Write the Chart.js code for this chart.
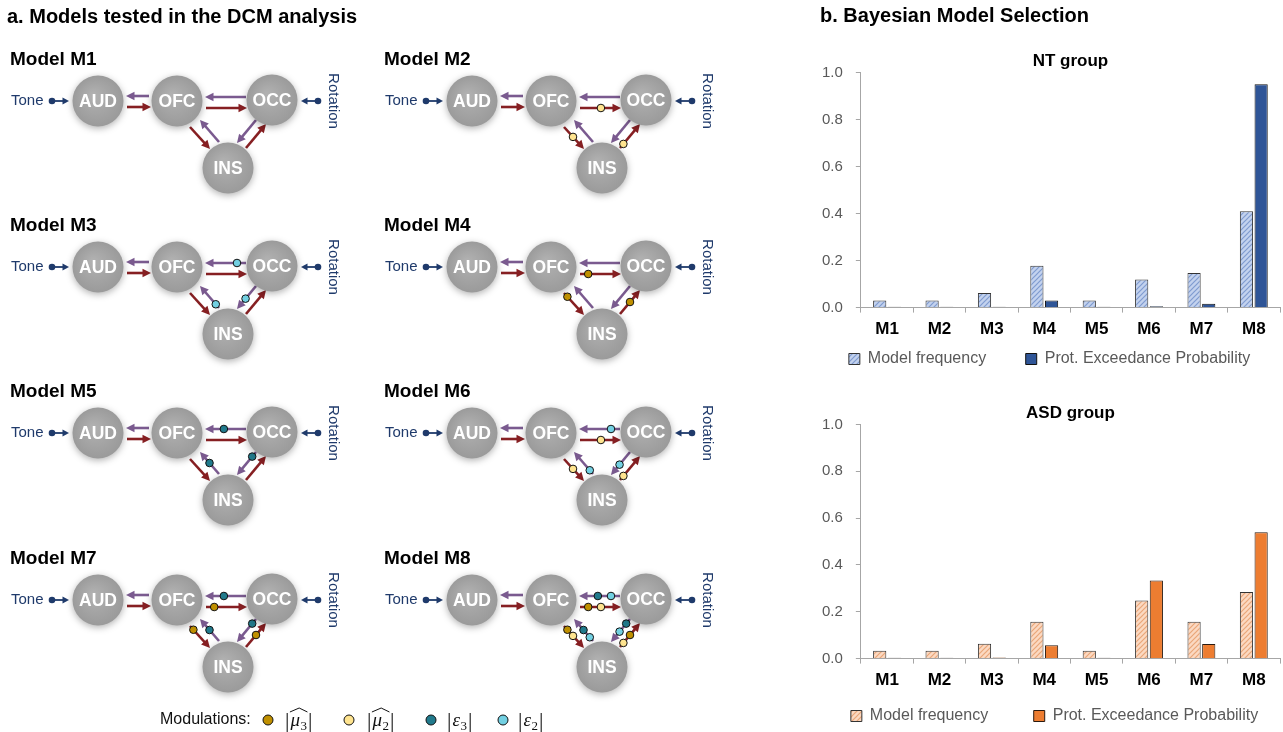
<!DOCTYPE html>
<html>
<head>
<meta charset="utf-8">
<script src="https://cdn.jsdelivr.net/npm/chart.js@4.4.1/dist/chart.umd.min.js"></script>
<style>
  body { margin: 0; background: #fff; }
  #wrap { position: relative; width: 1283px; height: 732px; overflow: hidden; }
  canvas { position: absolute; }
  #models { left: 0; top: 0; }
  #nt { left: 800px; top: 36px; }
  #asd { left: 800px; top: 388px; }
</style>
</head>
<body>
<div id="wrap">
  <canvas id="models" width="1283" height="732"></canvas>
  <canvas id="nt" width="483" height="341"></canvas>
  <canvas id="asd" width="483" height="346"></canvas>
</div>
<script>
const F = '"Liberation Sans", Arial, sans-serif';
Chart.defaults.font.family = F;

// panel a: which modulations each model carries
const models = ['Model M1', 'Model M2', 'Model M3', 'Model M4', 'Model M5', 'Model M6', 'Model M7', 'Model M8'];
const regions = ['AUD', 'OFC', 'OCC', 'INS'];
const hasMu3 = [0, 0, 0, 1, 0, 0, 1, 1];
const hasMu2 = [0, 1, 0, 0, 0, 1, 0, 1];
const hasEps3 = [0, 0, 0, 0, 1, 0, 1, 1];
const hasEps2 = [0, 0, 1, 0, 0, 1, 0, 1];

// panel b: Bayesian model selection
const groups = ['M1', 'M2', 'M3', 'M4', 'M5', 'M6', 'M7', 'M8'];
const ntFrequency = [0.03, 0.03, 0.062, 0.178, 0.03, 0.12, 0.147, 0.41];
const ntExceedance = [0.004, 0.004, 0.004, 0.03, 0.004, 0.006, 0.016, 0.95];
const asdFrequency = [0.033, 0.033, 0.063, 0.157, 0.033, 0.248, 0.157, 0.284];
const asdExceedance = [0.004, 0.004, 0.005, 0.057, 0.004, 0.333, 0.062, 0.54];
const yTicks = [0, 0.2, 0.4, 0.6, 0.8, 1.0];

const RED = '#861f22', PURPLE = '#7a5a8f', BLUE = '#1f3a6b';

// layout of one model diagram (px, relative to its block)
const nodeAt = { AUD: [98, 101], OFC: [177, 101], OCC: [272, 100], INS: [228, 168] };
const colX = [0, 374], rowY = [0, 166, 332, 499];
const origin = i => [colX[i % 2], rowY[Math.floor(i / 2)]];
const edge = {
  audOfc: { a: [127, 107], b: [151, 107], red: true },
  ofcAud: { a: [149, 96], b: [126, 96] },
  ofcOcc: { a: [206, 108], b: [247, 108], red: true },
  occOfc: { a: [246, 97], b: [205, 97] },
  ofcIns: { a: [190, 127], b: [210, 149], red: true },
  insOfc: { a: [219, 142], b: [200, 120] },
  occIns: { a: [256, 120], b: [237, 143] },
  insOcc: { a: [246, 148], b: [266, 124], red: true }
};
const spots = {
  mu3: [['ofcOcc', 0.2], ['ofcIns', 0.17], ['insOcc', 0.5]],
  mu2: [['ofcOcc', 0.51], ['ofcIns', 0.45], ['insOcc', 0.17]],
  eps3: [['occOfc', 0.54], ['insOfc', 0.5], ['occIns', 0.2]],
  eps2: [['occOfc', 0.22], ['insOfc', 0.17], ['occIns', 0.55]]
};

function modDots(flags, list) {
  const pts = [];
  flags.forEach((on, i) => {
    if (!on) return;
    const [ox, oy] = origin(i);
    list.forEach(([k, t]) => {
      const e = edge[k];
      pts.push({ x: ox + e.a[0] + t * (e.b[0] - e.a[0]), y: oy + e.a[1] + t * (e.b[1] - e.a[1]) });
    });
  });
  return pts;
}

const nodePoints = [], inputPoints = [];
models.forEach((m, i) => {
  const [ox, oy] = origin(i);
  regions.forEach(r => nodePoints.push({ x: ox + nodeAt[r][0], y: oy + nodeAt[r][1], r }));
  inputPoints.push({ x: ox + 52, y: oy + 101 }, { x: ox + 318, y: oy + 101 });
});

function arrow(ctx, p, q, color, lw, hl, hw) {
  const ang = Math.atan2(q[1] - p[1], q[0] - p[0]);
  const c = Math.cos(ang), s = Math.sin(ang);
  ctx.strokeStyle = color; ctx.fillStyle = color; ctx.lineWidth = lw;
  ctx.beginPath();
  ctx.moveTo(p[0], p[1]);
  ctx.lineTo(q[0] - hl * 0.7 * c, q[1] - hl * 0.7 * s);
  ctx.stroke();
  ctx.beginPath();
  ctx.moveTo(q[0], q[1]);
  ctx.lineTo(q[0] - hl * c + hw * s, q[1] - hl * s - hw * c);
  ctx.lineTo(q[0] - hl * c - hw * s, q[1] - hl * s + hw * c);
  ctx.closePath();
  ctx.fill();
}

function mathLabel(ctx, x, y, letter, sub, hat) {
  let cx = x;
  ctx.fillStyle = '#111';
  ctx.textAlign = 'left';
  ctx.textBaseline = 'alphabetic';
  ctx.font = '22px "Liberation Serif", serif';
  ctx.fillText('|', cx, y);
  cx += ctx.measureText('|').width + 1;
  const lx = cx;
  ctx.font = 'italic 19px "Liberation Serif", serif';
  ctx.fillText(letter, cx, y - 1);
  cx += ctx.measureText(letter).width + 0.5;
  ctx.font = '13px "Liberation Serif", serif';
  ctx.fillText(sub, cx, y + 3);
  cx += ctx.measureText(sub).width + 1;
  const rx = cx;
  ctx.font = '22px "Liberation Serif", serif';
  ctx.fillText('|', cx, y);
  if (hat) {
    ctx.strokeStyle = '#111'; ctx.lineWidth = 1;
    ctx.beginPath();
    ctx.moveTo(lx - 0.5, y - 15);
    ctx.lineTo((lx + rx) / 2, y - 19);
    ctx.lineTo(rx - 0.5, y - 15);
    ctx.stroke();
  }
}

const diagram = {
  id: 'diagram',
  beforeDatasetsDraw(chart) {
    const { ctx, scales: { x, y } } = chart;
    const P = (px, py) => [x.getPixelForValue(px), y.getPixelForValue(py)];
    ctx.save();
    models.forEach((m, i) => {
      const [ox, oy] = origin(i);
      for (const k in edge) {
        const e = edge[k];
        arrow(ctx, P(e.a[0] + ox, e.a[1] + oy), P(e.b[0] + ox, e.b[1] + oy), e.red ? RED : PURPLE, 2.6, 8.5, 4.3);
      }
      arrow(ctx, P(52 + ox, 101 + oy), P(69 + ox, 101 + oy), BLUE, 1.8, 6.5, 3.6);
      arrow(ctx, P(318 + ox, 101 + oy), P(301 + ox, 101 + oy), BLUE, 1.8, 6.5, 3.6);
    });
    ctx.restore();
  },
  beforeDatasetDraw(chart, args) {
    if (args.index !== 0) return;
    const c = chart.ctx;
    c.save();
    c.shadowColor = 'rgba(0,0,0,0.3)';
    c.shadowBlur = 7;
    c.shadowOffsetY = 2;
  },
  afterDatasetDraw(chart, args) {
    if (args.index === 0) chart.ctx.restore();
  },
  afterDatasetsDraw(chart) {
    const { ctx, scales: { x, y } } = chart;
    const P = (px, py) => [x.getPixelForValue(px), y.getPixelForValue(py)];
    ctx.save();
    ctx.fillStyle = '#000';
    ctx.textBaseline = 'middle';
    ctx.textAlign = 'left';
    ctx.font = 'bold 20px ' + F;
    ctx.fillText('a. Models tested in the DCM analysis', ...P(7, 17));
    ctx.fillText('b. Bayesian Model Selection', ...P(820, 16));

    models.forEach((m, i) => {
      const [ox, oy] = origin(i);
      ctx.fillStyle = '#000';
      ctx.textAlign = 'left';
      ctx.textBaseline = 'alphabetic';
      ctx.font = 'bold 19px ' + F;
      ctx.fillText(m, ...P(10 + ox, 65 + oy));

      ctx.fillStyle = '#fff';
      ctx.textAlign = 'center';
      ctx.textBaseline = 'middle';
      ctx.font = 'bold 17.5px ' + F;
      regions.forEach(r => ctx.fillText(r, ...P(nodeAt[r][0] + ox, nodeAt[r][1] + oy + 1)));

      ctx.fillStyle = BLUE;
      ctx.textAlign = 'left';
      ctx.font = '15px ' + F;
      ctx.fillText('Tone', ...P(11 + ox, 101 + oy));
      const [rx, ry] = P(333 + ox, 101 + oy);
      ctx.save();
      ctx.translate(rx, ry);
      ctx.rotate(Math.PI / 2);
      ctx.textAlign = 'center';
      ctx.fillText('Rotation', 0, 0);
      ctx.restore();
    });

    ctx.fillStyle = '#111';
    ctx.textAlign = 'left';
    ctx.textBaseline = 'middle';
    ctx.font = '16px ' + F;
    ctx.fillText('Modulations:', ...P(160, 720));
    mathLabel(ctx, ...P(285, 727), '\u03bc', '3', true);
    mathLabel(ctx, ...P(367, 727), '\u03bc', '2', true);
    mathLabel(ctx, ...P(447, 727), '\u03b5', '3', false);
    mathLabel(ctx, ...P(518, 727), '\u03b5', '2', false);
    ctx.restore();
  }
};

function nodeFill(c) {
  const sx = c.chart.scales.x, sy = c.chart.scales.y;
  if (c.type !== 'data' || !c.raw || !sx || !sy) return '#a4a4a4';
  const px = sx.getPixelForValue(c.raw.x), py = sy.getPixelForValue(c.raw.y);
  if (!isFinite(px) || !isFinite(py)) return '#a4a4a4';
  const g = c.chart.ctx.createRadialGradient(px - 5, py - 6, 2, px, py, 26);
  g.addColorStop(0, '#b0b0b0');
  g.addColorStop(1, '#9a9a9a');
  return g;
}

new Chart(document.getElementById('models'), {
  type: 'scatter',
  data: {
    datasets: [
      { data: nodePoints, pointRadius: 25.5, backgroundColor: nodeFill, borderWidth: 0 },
      { data: inputPoints, pointRadius: 3.3, backgroundColor: BLUE, borderWidth: 0 },
      { data: modDots(hasMu3, spots.mu3), pointRadius: 3.8, backgroundColor: '#c09000', borderColor: '#111', borderWidth: 1 },
      { data: modDots(hasMu2, spots.mu2), pointRadius: 3.8, backgroundColor: '#ffe48f', borderColor: '#111', borderWidth: 1 },
      { data: modDots(hasEps3, spots.eps3), pointRadius: 3.8, backgroundColor: '#217a8c', borderColor: '#111', borderWidth: 1 },
      { data: modDots(hasEps2, spots.eps2), pointRadius: 3.8, backgroundColor: '#72d0e2', borderColor: '#111', borderWidth: 1 },
      {
        data: [{ x: 268, y: 720 }, { x: 349, y: 720 }, { x: 431, y: 720 }, { x: 503, y: 720 }],
        pointRadius: 5, borderColor: '#111', borderWidth: 1,
        backgroundColor: ['#c09000', '#ffe48f', '#217a8c', '#72d0e2']
      }
    ]
  },
  options: {
    responsive: false,
    animation: false,
    events: [],
    layout: { padding: 0, autoPadding: false },
    plugins: { legend: { display: false }, tooltip: { enabled: false } },
    scales: {
      x: { type: 'linear', min: 0, max: 1283, display: false },
      y: { type: 'linear', min: 0, max: 732, reverse: true, display: false }
    }
  },
  plugins: [diagram]
});

function hatch(base, line) {
  const c = document.createElement('canvas');
  c.width = 5; c.height = 5;
  const g = c.getContext('2d');
  g.fillStyle = base;
  g.fillRect(0, 0, 5, 5);
  g.strokeStyle = line;
  g.lineWidth = 1.2;
  g.beginPath();
  g.moveTo(-1, 6); g.lineTo(6, -1);
  g.moveTo(-1, 1); g.lineTo(1, -1);
  g.moveTo(4, 6); g.lineTo(6, 4);
  g.stroke();
  return g.createPattern(c, 'repeat');
}

// nudge the legend sideways after layout
const legendShift = {
  id: 'legendShift',
  afterLayout(chart, args, opts) {
    if (!chart.legend) return;
    chart.legend.left += opts.dx;
    chart.legend.right += opts.dx;
  }
};

function bayesChart(id, title, freq, exc, freqFill, excFill, excBorder, legendPad, dx) {
  new Chart(document.getElementById(id), {
    type: 'bar',
    data: {
      labels: groups,
      datasets: [
        { label: 'Model frequency        ', data: freq, backgroundColor: freqFill, borderColor: '#333', borderWidth: 1, barPercentage: 0.9, categoryPercentage: 0.56 },
        { label: 'Prot. Exceedance Probability', data: exc, backgroundColor: excFill, borderColor: excBorder, borderWidth: 1, barPercentage: 0.9, categoryPercentage: 0.56 }
      ]
    },
    options: {
      responsive: false,
      animation: false,
      events: [],
      layout: { padding: { left: 9, right: 3, top: 0, bottom: 0 } },
      plugins: {
        title: {
          display: true, text: title, fullSize: false, color: '#000',
          font: { size: 17, weight: 'bold' }, padding: { top: 15, bottom: 1 }
        },
        legend: {
          position: 'bottom',
          labels: { boxWidth: 11, boxHeight: 11, color: '#595959', font: { size: 16 }, padding: legendPad }
        },
        legendShift: { dx },
        tooltip: { enabled: false }
      },
      scales: {
        x: {
          grid: { drawOnChartArea: false, tickLength: 5, color: '#a6a6a6' },
          border: { color: '#a6a6a6' },
          ticks: { color: '#000', font: { size: 17, weight: 'bold' }, padding: 7 }
        },
        y: {
          min: 0, max: 1,
          afterBuildTicks: s => { s.ticks = yTicks.map(v => ({ value: v })); },
          grid: { drawOnChartArea: false, tickLength: 5, color: '#a6a6a6' },
          border: { color: '#a6a6a6' },
          ticks: { color: '#595959', font: { size: 15 }, padding: 13, callback: v => v.toFixed(1) }
        }
      }
    },
    plugins: [legendShift]
  });
}

bayesChart('nt', 'NT group', ntFrequency, ntExceedance,
  hatch('#c3d2ee', '#7f9bd0'), '#2f5597', '#111', 4, 5);
bayesChart('asd', 'ASD group', asdFrequency, asdExceedance,
  hatch('#fbd9c2', '#eaa678'), '#ed7d31', '#2a1a10', 10, 10);
</script>
</body>
</html>
